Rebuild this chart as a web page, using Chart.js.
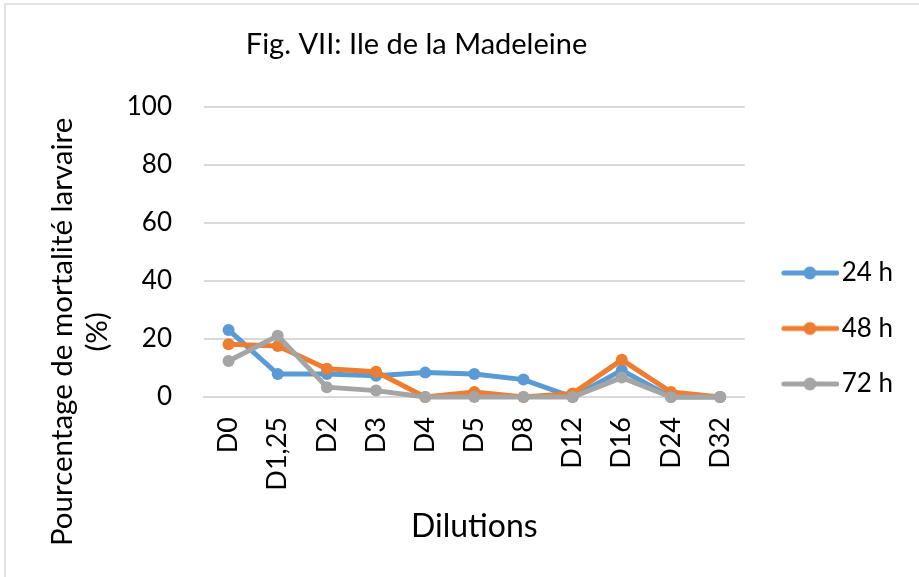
<!DOCTYPE html>
<html>
<head>
<meta charset="utf-8">
<script src="https://cdn.jsdelivr.net/npm/chart.js@4.4.1/dist/chart.umd.min.js"></script>
<style>
  html, body { margin: 0; padding: 0; background: #ffffff; }
  #wrap { width: 919px; height: 577px; position: relative; }
</style>
</head>
<body>
<div id="wrap"><canvas id="chart" width="919" height="577"></canvas></div>
<script>
// Dilution levels tested
const categories = ['D0', 'D1,25', 'D2', 'D3', 'D4', 'D5', 'D8', 'D12', 'D16', 'D24', 'D32'];

// Larval mortality (%) after each exposure time
const mortality24h = [23.1, 7.9, 7.9, 7.3, 8.4, 7.9, 6.0, 0, 9.2, 0, 0];
const mortality48h = [18.2, 17.6, 9.7, 8.7, 0, 1.7, 0, 1.2, 12.8, 1.7, 0];
const mortality72h = [12.4, 21.1, 3.4, 2.2, 0, 0, 0, 0, 6.7, 0, 0];

const seriesNames = ['24 h', '48 h', '72 h'];
const yTicks = [0, 20, 40, 60, 80, 100];

const COLORS = ['#5B9BD5', '#ED7D31', '#A5A5A5'];
const FONT = 'Lato, "Open Sans", sans-serif';

// Legend marker: a short line with a dot in its middle
function legendMarker(color) {
  const c = document.createElement('canvas');
  c.width = 76; c.height = 16;
  const g = c.getContext('2d');
  g.strokeStyle = color;
  g.lineWidth = 5;
  g.lineCap = 'round';
  g.beginPath();
  g.moveTo(20.5, 8);
  g.lineTo(73.5, 8);
  g.stroke();
  g.fillStyle = color;
  g.beginPath();
  g.arc(46.5, 8, 6.5, 0, Math.PI * 2);
  g.fill();
  return c;
}

const series = [mortality24h, mortality48h, mortality72h];
const datasets = series.map((values, i) => ({
  label: seriesNames[i],
  data: values,
  borderColor: COLORS[i],
  backgroundColor: COLORS[i],
  borderWidth: 5,
  pointRadius: 6,
  pointBorderWidth: 0,
  pointHoverRadius: 6,
  pointStyle: 'circle',
  tension: 0,
  clip: false,
  // later series drawn above earlier ones
  order: series.length - 1 - i,
  markerImage: legendMarker(COLORS[i])
}));

// White background and the thin frame around the chart
const frame = {
  id: 'frame',
  beforeDraw(chart) {
    const ctx = chart.ctx;
    ctx.save();
    ctx.fillStyle = '#ffffff';
    ctx.fillRect(0, 0, chart.width, chart.height);
    ctx.strokeStyle = '#d9d9d9';
    ctx.lineWidth = 1.5;
    ctx.strokeRect(5, 4, chart.width + 20, chart.height + 20);
    ctx.restore();
  }
};

// Final placement of the title, the value-axis caption and the legend
const placement = {
  id: 'placement',
  afterLayout(chart) {
    if (chart.titleBlock) {
      chart.titleBlock.left = 0;
      chart.titleBlock.right = 833;
    }
    const y = chart.scales.y;
    y.top += 80;
    y.bottom += 80;
    if (chart.legend) {
      chart.legend.top += 40;
      chart.legend.bottom += 40;
    }
  }
};

new Chart(document.getElementById('chart'), {
  type: 'line',
  data: { labels: categories, datasets },
  plugins: [frame, placement],
  options: {
    responsive: false,
    animation: false,
    events: [],
    layout: { padding: { left: 0, right: 16, top: 0, bottom: 0 } },
    plugins: {
      title: {
        display: true,
        text: 'Fig. VII: Ile de la Madeleine',
        color: '#000000',
        font: { family: FONT, size: 29, weight: 'normal', lineHeight: 1.2 },
        padding: { top: 27, bottom: 45 }
      },
      legend: {
        display: true,
        position: 'right',
        align: 'center',
        labels: {
          color: '#000000',
          font: { family: FONT, size: 26 },
          usePointStyle: true,
          pointStyleWidth: 54.5,
          boxHeight: 16,
          padding: 29.5,
          sort: (a, b) => a.datasetIndex - b.datasetIndex,
          generateLabels(chart) {
            return chart.data.datasets.map((ds, i) => ({
              text: ds.label,
              datasetIndex: i,
              pointStyle: ds.markerImage,
              fillStyle: ds.borderColor,
              strokeStyle: ds.borderColor,
              lineWidth: 0,
              fontColor: '#000000',
              hidden: false
            }));
          }
        }
      },
      tooltip: { enabled: false }
    },
    scales: {
      x: {
        type: 'category',
        offset: true,
        grid: { display: false, drawTicks: false },
        border: { display: true, color: '#d9d9d9', width: 2 },
        ticks: {
          color: '#000000',
          font: { family: FONT, size: 27 },
          maxRotation: 90,
          minRotation: 90,
          autoSkip: false,
          padding: 20
        },
        title: {
          display: true,
          text: 'Dilutions',
          color: '#000000',
          font: { family: FONT, size: 32, lineHeight: 1.2 },
          padding: { top: 0, bottom: 31 }
        },
        afterFit(scale) { scale.height = 180; }
      },
      y: {
        min: 0,
        max: 100,
        afterBuildTicks(scale) { scale.ticks = yTicks.map(v => ({ value: v })); },
        grid: { color: '#d9d9d9', lineWidth: 2, drawTicks: false },
        border: { display: false },
        ticks: {
          color: '#000000',
          font: { family: FONT, size: 26 },
          padding: 32
        },
        title: {
          display: true,
          text: ['Pourcentage de mortalité larvaire', '(%)'],
          color: '#000000',
          font: { family: FONT, size: 29.5, lineHeight: 1.2 },
          padding: { top: 44.3, bottom: 0 }
        },
        afterFit(scale) { scale.width = 204; }
      }
    }
  }
});
</script>
</body>
</html>
